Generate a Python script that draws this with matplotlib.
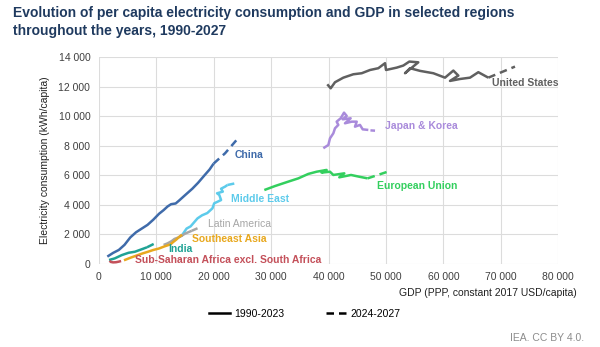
import matplotlib
matplotlib.use('Agg')
import matplotlib.pyplot as plt
from matplotlib.lines import Line2D
from matplotlib.ticker import FuncFormatter

plt.rcParams['font.family'] = ['Liberation Sans', 'DejaVu Sans']

# GDP (PPP, 2017 USD/capita) and electricity (kWh/capita)
china_gdp = [1500, 2500, 3500, 4500, 5500, 6500, 7500, 8500, 9500, 10500, 11300, 12000,
             12600, 13400, 14000, 15000, 16300, 17300, 18400, 19300, 20000]
china_elec = [500, 750, 950, 1300, 1800, 2150, 2400, 2650, 3000, 3400, 3650, 3900,
              4050, 4100, 4300, 4650, 5100, 5500, 6000, 6400, 6800]
china_gdp_f = [20000, 22000, 24000]
china_elec_f = [6800, 7500, 8400]

me_gdp = [14500, 15300, 16000, 17200, 18000, 18900, 19800, 20100, 21300, 21000, 20600,
          21600, 21300, 22000, 22400]
me_elec = [1950, 2400, 2550, 3090, 3300, 3450, 3770, 4110, 4330, 4670, 4790,
           4900, 5100, 5240, 5350]
me_gdp_f = [22400, 23600]
me_elec_f = [5350, 5450]

latam_gdp = [11300, 12000, 12700, 13200, 13900, 14500, 14300, 15000, 15600, 16200]
latam_elec = [1290, 1400, 1550, 1700, 1800, 1950, 1880, 2050, 2150, 2250]
latam_gdp_f = [16200, 17200]
latam_elec_f = [2250, 2420]

sea_gdp = [4400, 5500, 6500, 7500, 8500, 9500, 10500, 11500, 12500, 13000, 13500, 13900]
sea_elec = [250, 420, 560, 700, 820, 950, 1050, 1200, 1330, 1500, 1650, 1800]
sea_gdp_f = [13900, 14500]
sea_elec_f = [1800, 1980]

india_gdp = [1800, 2800, 4000, 5200, 6300, 7500, 8400]
india_elec = [270, 380, 600, 760, 830, 1000, 1130]
india_gdp_f = [8400, 9800]
india_elec_f = [1130, 1400]

ssa_gdp = [1900, 2100, 2500, 3000, 3500, 3900]
ssa_elec = [220, 140, 110, 120, 160, 200]

us_gdp = [39790, 40380, 41130, 42580, 44320, 45780, 47230, 48670, 49840, 50010, 51870,
          53020, 54070, 55630, 53320, 54190, 55930, 58250, 60280, 61730, 62600, 61150,
          62890, 64630, 66080, 67820]
us_elec = [12170, 11900, 12310, 12620, 12850, 12920, 13140, 13260, 13600, 13140, 13300,
           13440, 13710, 13660, 12920, 13260, 13080, 12920, 12620, 13100, 12760, 12400,
           12530, 12620, 12990, 12620]
us_gdp_f = [67820, 72460]
us_elec_f = [12620, 13370]

jk_gdp = [39100, 39970, 40260, 40840, 41130, 41710, 41420, 42120, 42700, 43170, 42470,
          43860, 42870, 44040, 44910, 44610, 45480, 45950, 46930]
jk_elec = [7840, 8060, 8510, 8850, 9190, 9420, 9640, 9870, 10250, 10030, 9800,
           9870, 9530, 9640, 9640, 9300, 9420, 9120, 9080]
jk_gdp_f = [47300, 48100]
jk_elec_f = [9050, 9030]

eu_gdp = [28830, 30690, 33010, 34750, 36480, 37930, 39670, 38800, 40260, 40840, 42750,
          41880, 43920, 45360, 46810]
eu_elec = [5010, 5280, 5580, 5800, 6100, 6250, 6370, 6190, 6250, 6030, 6140,
           5870, 6030, 5910, 5800]
eu_gdp_f = [46810, 50290]
eu_elec_f = [5800, 6250]

series = [
    ('China', china_gdp, china_elec, china_gdp_f, china_elec_f, '#3F6BAA', (23730, 7380), 'bold'),
    ('Middle East', me_gdp, me_elec, me_gdp_f, me_elec_f, '#5DCBEB', (23030, 4400), 'bold'),
    ('Latin America', latam_gdp, latam_elec, latam_gdp_f, latam_elec_f, '#A6A6A6', (19030, 2710), 'normal'),
    ('Southeast Asia', sea_gdp, sea_elec, sea_gdp_f, sea_elec_f, '#E8A81E', (16240, 1690), 'bold'),
    ('India', india_gdp, india_elec, india_gdp_f, india_elec_f, '#1FA294', (12060, 1000), 'bold'),
    ('Sub-Saharan Africa excl. South Africa', ssa_gdp, ssa_elec, None, None, '#C4505A', (6320, 270), 'bold'),
    ('United States', us_gdp, us_elec, us_gdp_f, us_elec_f, '#606060', (68470, 12260), 'bold'),
    ('Japan & Korea', jk_gdp, jk_elec, jk_gdp_f, jk_elec_f, '#A98BDB', (49850, 9350), 'bold'),
    ('European Union', eu_gdp, eu_elec, eu_gdp_f, eu_elec_f, '#33CF5E', (48460, 5280), 'bold'),
]

fig = plt.figure(figsize=(6, 3.47), dpi=100)
ax = fig.add_axes([0.1645, 0.2392, 0.766, 0.5957])

for name, gx, ey, gxf, eyf, col, pos, w in series:
    ax.plot(gx, ey, color=col, lw=1.8, solid_capstyle='butt')
    if gxf is not None:
        ax.plot(gxf, eyf, color=col, lw=1.8, ls=(0, (3, 2)))
    ax.text(pos[0], pos[1], name, color=col, fontsize=7.5, fontweight=w,
            ha='left', va='center')

ax.set_xlim(0, 80000)
ax.set_ylim(0, 14000)
ax.set_xticks(range(0, 80001, 10000))
ax.set_yticks(range(0, 14001, 2000))
fmt = FuncFormatter(lambda v, p: f'{int(v):,}'.replace(',', ' '))
ax.xaxis.set_major_formatter(fmt)
ax.yaxis.set_major_formatter(fmt)
ax.tick_params(length=0, labelsize=7.5, colors='#404040', pad=6)
ax.grid(True, color='#DCDCDC', lw=0.8)
ax.set_axisbelow(True)
for s in ax.spines.values():
    s.set_visible(False)
ax.set_ylabel('Electricity consumption (kWh/capita)', fontsize=7.5, color='#202020', labelpad=6)

fig.text(577 / 600, 1 - 293 / 347, 'GDP (PPP, constant 2017 USD/capita)', fontsize=7.5,
         color='#202020', ha='right', va='center')

fig.text(13 / 600, 1 - 6 / 347,
         'Evolution of per capita electricity consumption and GDP in selected regions\nthroughout the years, 1990-2027',
         fontsize=10, fontweight='bold', color='#1F3A5F', ha='left', va='top', linespacing=1.4)

handles = [Line2D([], [], color='black', lw=1.8),
           Line2D([], [], color='black', lw=1.8, ls=(0, (3, 2)))]
fig.legend(handles, ['1990-2023', '2024-2027'], loc='center', bbox_to_anchor=(0.508, 1 - 314 / 347),
           ncol=2, frameon=False, fontsize=7.5, handlelength=2.0, columnspacing=4, handletextpad=0.4)

fig.text(584 / 600, 1 - 338 / 347, 'IEA. CC BY 4.0.', fontsize=7.5, color='#8C8C8C',
         ha='right', va='center')

fig.savefig('out.png', dpi=100, facecolor='white')
